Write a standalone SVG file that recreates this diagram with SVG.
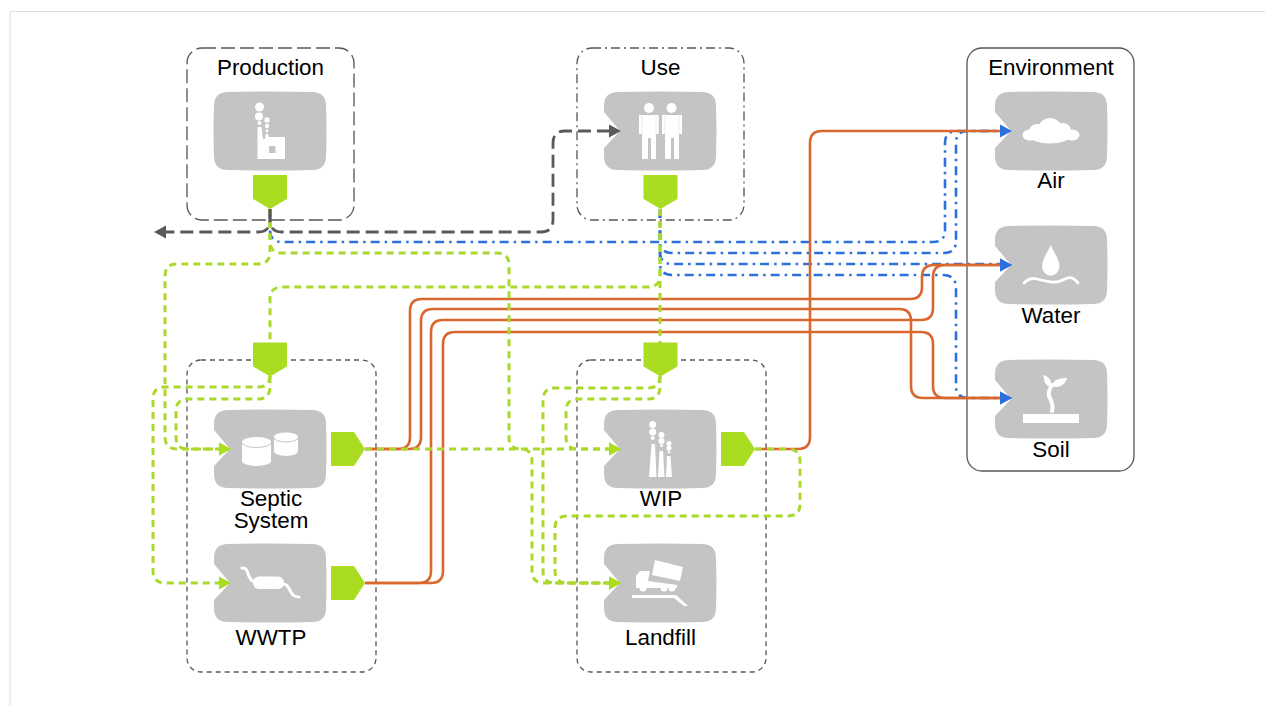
<svg xmlns="http://www.w3.org/2000/svg" xmlns:xlink="http://www.w3.org/1999/xlink" width="1265" height="706" viewBox="0 0 1265 706">
<style>
text{font-family:"Liberation Sans",Arial,sans-serif;font-size:22.400px;fill:#000;text-anchor:middle}
.frame{fill:none;stroke:#555;stroke-width:1.3}
.tile{fill:#c4c4c4}
.port{fill:#aadc22}
.ic{fill:#fff}
.icl{fill:none;stroke:#fff;stroke-linecap:round}
.hole{fill:#c4c4c4}
.c{fill:none;stroke-width:2.600}
.grey{stroke:#5a5a5a;stroke-dasharray:13 6;stroke-width:2.800;marker-end:url(#hg)}
.blue{stroke:#2b70dc;stroke-width:2.600;stroke-dasharray:9 5 2.500 5}
.orange{stroke:#d9672e;marker-end:url(#hb)}
.green{stroke:#a9d92a;stroke-width:3;stroke-dasharray:7 5}
.gh{marker-end:url(#hl)}
</style>
<defs>
<marker id="hb" markerUnits="userSpaceOnUse" markerWidth="12" markerHeight="14" refX="0" refY="7" orient="auto"><path d="M0 0.500L12 7L0 13.500z" fill="#2b70dc"/></marker>
<marker id="hg" markerUnits="userSpaceOnUse" markerWidth="12" markerHeight="14" refX="0" refY="7" orient="auto"><path d="M0 0.500L12 7L0 13.500z" fill="#5a5a5a"/></marker>
<marker id="hl" markerUnits="userSpaceOnUse" markerWidth="12" markerHeight="14" refX="0" refY="7" orient="auto"><path d="M0 0.500L12 7L0 13.500z" fill="#aadc22"/></marker>
<path id="tile" d="M14 0Q56 -1 98 0Q112 0 112 14Q113 39 112 64Q112 78 98 78Q56 79 14 78Q0 78 0 64Q-1 39 0 14Q0 0 14 0z"/>
<path id="tilen" d="M14 0Q56 -1 98 0Q112 0 112 14Q113 39 112 64Q112 78 98 78Q56 79 14 78Q0 78 0 64V56L16 39L0 20V14Q0 0 14 0z"/>
<path id="pd" d="M0 0H34V24L17 34L0 24z"/>
<path id="pr" d="M0 0H23L34 17L23 34H0z"/>
</defs>
<path d="M10 706V11.500H1265" fill="none" stroke="#dedede" stroke-width="1"/>

<g id="production">
<rect class="frame" x="187" y="48" width="167" height="172" rx="15" stroke-dasharray="14 5"/>
<text x="270.500" y="75">Production</text>
<use href="#tile" class="tile" x="214" y="92"/>
<g class="ic"><circle cx="259.500" cy="107" r="4.500"/><circle cx="259" cy="116.500" r="4"/><circle cx="259.500" cy="123" r="2"/><circle cx="267" cy="120" r="2.700"/><circle cx="267" cy="126" r="2.200"/><circle cx="267" cy="131" r="1.400"/>
<path d="M257.500 127H261.500L263 139H265L265.500 134H268L269 137H285V159H257.500z"/></g>
<rect class="hole" x="269" y="146" width="6.500" height="7"/>
<use href="#pd" class="port" x="253" y="175"/>
</g>

<g id="use">
<rect class="frame" x="577" y="48" width="167" height="172" rx="15" stroke-dasharray="9 4 2 4"/>
<text x="660.500" y="75">Use</text>
<use href="#tilen" class="tile" x="604" y="92"/>
<g class="ic"><circle cx="649" cy="108" r="5"/><circle cx="671.500" cy="108" r="5"/>
<path d="M639 115H658.700V134H656V159H651V138H648V159H642V134H639z"/>
<path d="M662 115H682V134H679V159H674V138H671V159H665V134H662z"/></g>
<path d="M642 116V134M656 116V134M665 116V134M679 116V134" stroke="#e4e4e4" stroke-width="0.700" fill="none"/>
<use href="#pd" class="port" x="643.500" y="175"/>
</g>

<g id="environment">
<rect class="frame" x="967" y="48" width="167" height="423" rx="15"/>
<text x="1051" y="75">Environment</text>
</g>
<g id="air">
<use href="#tilen" class="tile" x="995" y="92"/>
<g class="ic"><ellipse cx="1030" cy="135" rx="7.500" ry="5.500"/><ellipse cx="1038" cy="131" rx="9" ry="7"/><ellipse cx="1050" cy="127" rx="11" ry="9"/><ellipse cx="1062" cy="130" rx="9" ry="7"/><ellipse cx="1072" cy="135" rx="7.500" ry="5.500"/><ellipse cx="1050" cy="136" rx="20" ry="7.500"/></g>
<text x="1051" y="188">Air</text>
</g>
<g id="water">
<use href="#tilen" class="tile" x="995" y="226"/>
<path class="ic" d="M1050.700 245C1054 253 1059.500 259 1059.500 267A8.800 9.700 0 0 1 1042 267C1042 259 1047.500 253 1050.700 245z"/>
<path class="icl" stroke-width="2.800" d="M1024 283Q1030 277 1037 279T1051 282T1065 279T1078 283"/>
<text x="1051" y="323">Water</text>
</g>
<g id="soil">
<use href="#tilen" class="tile" x="995" y="360"/>
<rect class="ic" x="1023" y="414" width="56" height="9"/>
<path class="icl" stroke-width="4" d="M1052 411C1054 405 1051 400 1049 396C1048 392 1050 388 1052 385"/>
<path class="ic" d="M1051 387C1044 385 1044 380 1043.500 375C1048 376 1052 380 1051 387zM1052 386C1053 380 1059 378 1067 378C1065 385 1059 389 1052 386z"/>
<text x="1051" y="457">Soil</text>
</g>

<g id="septic-wwtp-frame">
<rect class="frame" x="187" y="360" width="189" height="312" rx="14" stroke-dasharray="5 4"/>
</g>
<g id="septic">
<use href="#tilen" class="tile" x="214" y="410"/>
<path class="ic" d="M242 442A14.500 5 0 0 1 271 442V461A14.500 5 0 0 1 242 461z"/>
<path class="ic" d="M274 437A12 4.500 0 0 1 298 437V451A12 5 0 0 1 274 451z"/>
<path d="M242 442.500A14.500 5 0 0 0 271 442.500M274 437.500A12 4.500 0 0 0 298 437.500" fill="none" stroke="#c4c4c4" stroke-width="1"/>
<use href="#pr" class="port" x="331" y="432"/>
<text x="271" y="505.500">Septic</text>
<text x="271" y="528">System</text>
</g>
<g id="wwtp">
<use href="#tilen" class="tile" x="214" y="544"/>
<rect class="ic" x="253" y="576.500" width="31" height="12.500" rx="6"/>
<path class="icl" stroke-width="3" d="M242 568C248 567 247 574 250 578Q252 582 256 582M282 584C288 583 289 590 293 595Q295 597 299 597"/>
<use href="#pr" class="port" x="331" y="566"/>
<text x="271" y="645">WWTP</text>
</g>
<g id="input-septic"><use href="#pd" class="port" x="253" y="342.500"/></g>

<g id="wip-landfill-frame">
<rect class="frame" x="577" y="360" width="189" height="312" rx="14" stroke-dasharray="5 4"/>
</g>
<g id="wip">
<use href="#tilen" class="tile" x="604" y="410"/>
<g class="ic"><circle cx="652.700" cy="424.500" r="3.500"/><circle cx="652.700" cy="432" r="3.500"/><circle cx="652.700" cy="438" r="2"/><circle cx="661.500" cy="435" r="3"/><circle cx="661.500" cy="441" r="3"/><circle cx="661.500" cy="445.500" r="1.500"/><circle cx="669" cy="443.500" r="2.500"/><circle cx="669" cy="448" r="2.500"/><circle cx="669" cy="452" r="1.200"/>
<path d="M651.500 444H655L656.500 477H649zM659.500 451H663L664.500 477H658zM667 456H670.500L672 477H666z"/></g>
<use href="#pr" class="port" x="721" y="432"/>
<text x="661" y="505.500">WIP</text>
</g>
<g id="landfill">
<use href="#tilen" class="tile" x="604" y="544"/>
<g class="ic"><path d="M655 560L683 567L680 581L652 575z"/>
<path d="M636 576L640 571H650L648 581L677 585V588H636z"/>
<circle cx="643" cy="588" r="3.500"/><circle cx="664" cy="588" r="3.500"/><circle cx="672" cy="588" r="3.500"/>
<path d="M632 595H676L688 606H684L674 598H632z"/></g>
<text x="660.500" y="645">Landfill</text>
</g>
<g id="input-landfill"><use href="#pd" class="port" x="643.500" y="342.500"/></g>

<g id="connectors">
<g class="c blue">
<path d="M270 209V230Q270 242 282 242H933Q945 242 945 230V143Q945 131 957 131H1000"/>
<path d="M660 209V241Q660 253 672 253H944Q956 253 956 241V143Q956 131 968 131H1000"/>
<path d="M660 209V252Q660 264 672 264H1000"/>
<path d="M660 209V263Q660 275 672 275H943Q956 275 956 288V386Q956 398 968 398H1000"/>
</g>
<g class="c orange">
<path d="M365 449H398Q410 449 410 437V311Q410 299 422 299H910Q922 299 922 287V277Q922 265 934 265H1000"/>
<path d="M365 449H409Q421 449 421 437V321Q421 309 433 309H899Q911 309 911 321V386Q911 398 923 398H1000"/>
<path d="M365 583H419Q431 583 431 571V332Q431 320 443 320H921Q933 320 933 308V277Q933 265 945 265H1000"/>
<path d="M365 583H431Q443 583 443 571V344Q443 332 455 332H921Q933 332 933 344V386Q933 398 945 398H1000"/>
<path d="M755 449H798Q810 449 810 437V143Q810 131 822 131H1000"/>
</g>
<g class="c green">
<path class="gh" d="M270 209V252Q270 264 258 264H177Q165 264 165 276V437Q165 449 177 449H219"/>
<path class="gh" d="M270 209V241Q270 253 282 253H497Q509 253 509 265V437Q509 449 520.500 449Q532 449 532 461V571Q532 583 544 583H609"/>
<path d="M660 209V343"/>
<path d="M660 209V275Q660 287 648 287H282Q270 287 270 299V343"/>
<path class="gh" d="M270 376Q270 387 258 387H165Q153 387 153 399V571Q153 583 165 583H219"/>
<path class="gh" d="M270 376V387Q270 399 258 399H188Q176 399 176 411V437Q176 449 188 449H219"/>
<path class="gh" d="M660 376Q660 388 648 388H555Q543 388 543 400V571Q543 583 555 583H609"/>
<path class="gh" d="M660 376V387Q660 399 648 399H578Q566 399 566 411V437Q566 449 578 449H609"/>
<path class="gh" d="M365 449H609"/>
<path class="gh" d="M755 449H788Q800 449 800 461V504Q800 516 788 516H567Q555 516 555 528V571Q555 583 567 583H609"/>
</g>
<g class="c grey">
<path d="M270 209V220Q270 232 258 232H166"/>
<path d="M270 209V220Q270 232 282 232H541Q553 232 553 220V143Q553 131 565 131H609"/>
</g>
</g>
</svg>
